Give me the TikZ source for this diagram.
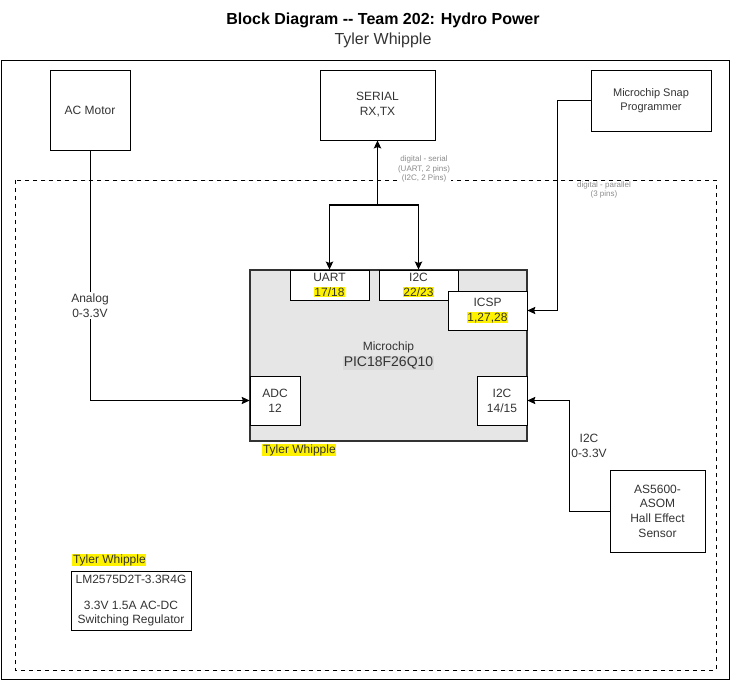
\documentclass[tikz,border=0pt]{standalone}
\usepackage{fontspec}
\setmainfont{Liberation Sans}
\usepackage{xcolor}
\usepackage{tikz}
\usetikzlibrary{positioning}
\usetikzlibrary{shapes,arrows,arrows.meta}
\definecolor{chipfill}{HTML}{E6E6E6}
\definecolor{partbg}{HTML}{DADADA}
\definecolor{notegray}{HTML}{8C8C8C}
\definecolor{textgray}{HTML}{333333}
\newcommand{\pinno}[1]{{\setlength{\fboxsep}{0.5pt}\colorbox{yellow}{#1}}}
\tikzset{%
  block/.style    = {draw, rectangle, align=center, inner sep=0pt, text=textgray,
    font=\fontsize{9}{11.25}\selectfont},
  chipbody/.style = {draw=textgray, line width=1.5pt, rectangle, fill=chipfill,
    inner sep=0pt}, % Microchip body
  pinbox/.style   = {block, fill=white}, % pin group on the chip
  note/.style     = {align=center, inner sep=1pt, text=notegray,
    font=\fontsize{6}{7}\selectfont}, % small signal text
  wire/.style     = {align=center, inner sep=1pt, text=textgray,
    font=\fontsize{9}{11.25}\selectfont}, % signal text
  whoname/.style  = {fill=yellow, inner sep=0.5pt, anchor=west, text=textgray,
    font=\fontsize{9}{11}\selectfont}
}

\begin{document}
\begin{tikzpicture}[x=0.75pt, y=-0.75pt, line width=0.6pt, >={Stealth[length=6pt, width=5.5pt, inset=1pt]}]
  \useasboundingbox (0,0) rectangle (732,681);

  \draw node at (383,20) [font=\bfseries\fontsize{12}{14}\selectfont] (title) {Block Diagram -{}- Team 202: Hydro Power};
  \draw node at (383,40) [font=\fontsize{12}{14}\selectfont, text=textgray] (author) {Tyler Whipple};

  \draw (1,60) rectangle (729,679);
  \draw[dashed] (15,180) rectangle (716,670);

  \draw node at (90,110) [block, minimum width=60pt, minimum height=60pt] (motor) {AC Motor};
  \draw node at (377.5,105) [block, minimum width=86.25pt, minimum height=52.5pt] (serial) {SERIAL\\RX,TX};
  \draw node at (651,100.5) [block, minimum width=90pt, minimum height=45.75pt,
    font=\fontsize{8.25}{10.5}\selectfont] (snap) {Microchip Snap\\Programmer};

  \draw node at (388.5,355.5) [chipbody, minimum width=207.75pt, minimum height=128.25pt] (chip) {};
  \draw node at (chip.center) [align=center, text=textgray, font=\fontsize{9}{12}\selectfont] (part)
    {Microchip\\{\fontsize{10.5}{12}\selectfont\setlength{\fboxsep}{0.5pt}\colorbox{partbg}{PIC18F26Q10}}};

  \draw node at (329.5,285) [pinbox, minimum width=59.25pt, minimum height=22.5pt] (uart) {UART\\\pinno{17/18}};
  \draw node at (418.5,285) [pinbox, minimum width=59.25pt, minimum height=22.5pt] (i2ca) {I2C\\\pinno{22/23}};
  \draw node at (487.5,310.5) [pinbox, minimum width=59.25pt, minimum height=29.25pt] (icsp) {ICSP\\\pinno{1,27,28}};
  \draw node at (275,400.5) [pinbox, minimum width=37.5pt, minimum height=36.75pt] (adc) {ADC\\12};
  \draw node at (502,400.5) [pinbox, minimum width=37.5pt, minimum height=36.75pt] (i2cb) {I2C\\14/15};
  \draw node at (262,450) [whoname] (chipname) {Tyler Whipple};

  \draw node at (657.5,511) [block, minimum width=71.25pt, minimum height=61.5pt,
    font=\fontsize{9}{11}\selectfont] (sensor) {AS5600-\\ASOM\\Hall Effect\\Sensor};

  \draw node at (131,600.5) [block, minimum width=90pt, minimum height=44.25pt,
    font=\fontsize{9}{10.5}\selectfont] (reg) {LM2575D2T-3.3R4G\\[9pt]3.3V 1.5A AC-DC\\Switching Regulator};
  \draw node at (72,560) [whoname] (regname) {Tyler Whipple};

  \coordinate (split) at (377.5,205);
  \coordinate (snapbend) at (557,310.5);
  \coordinate (sensbend) at (569,400.5);

  \draw[->] (motor) |- node[pos=0.31, wire, fill=white] {Analog\\0-3.3V} (adc);
  \draw[->, line width=1pt] (split) -- (serial);
  \draw[->, line width=1pt] (split) -| (uart);
  \draw[->, line width=1pt] (split) -| (i2ca);
  \draw[->] (snap) -| (snapbend) -- (icsp);
  \draw[->] (sensor) -| (sensbend) -- (i2cb);

  \draw node at (424,169) [note, fill=white] {digital - serial\\(UART, 2 pins)\\(I2C, 2 Pins)};
  \draw node at (604,190) [note] {digital - parallel\\(3 pins)};
  \draw node at (589,446) [wire] {I2C\\0-3.3V};

  \end{tikzpicture}
\end{document}
